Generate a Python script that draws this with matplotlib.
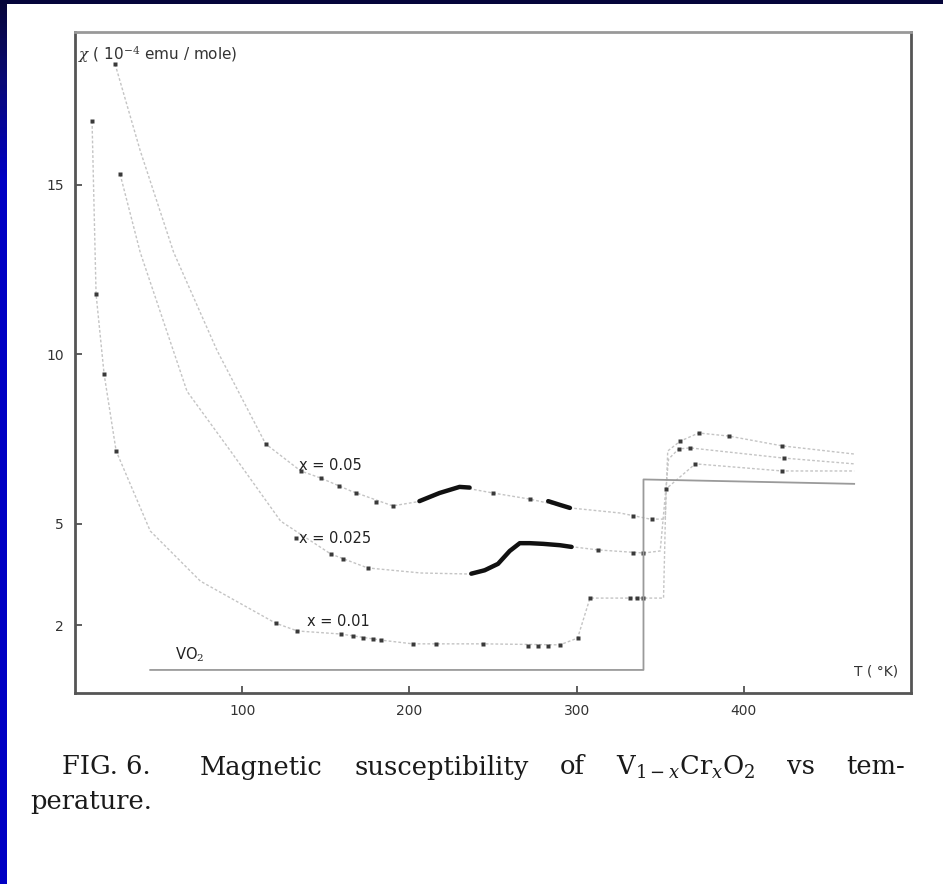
import matplotlib

matplotlib.use("Agg")
import matplotlib.pyplot as plt
import numpy as np
from matplotlib.colors import LinearSegmentedColormap

plt.rcParams["mathtext.fontset"] = "dejavuserif"

# --- data (T in K, chi in 1e-4 emu/mole) ---
# x = 0.05
T05_line = [24, 39, 59, 85, 114, 135, 147, 165, 190, 207, 230, 250, 272, 296,
            326, 344, 353, 354.5, 362, 373, 391, 423, 466]
C05_line = [18.55, 16.0, 13.0, 10.1, 7.35, 6.55, 6.34, 5.96, 5.52, 5.66, 6.08,
            5.9, 5.72, 5.46, 5.31, 5.13, 5.13, 7.14, 7.43, 7.67, 7.58, 7.29, 7.05]
T05_pts = [24, 114, 135, 147, 158, 168, 180, 190, 250, 272, 334, 345,
           362, 373, 391, 423]
C05_pts = [18.55, 7.35, 6.55, 6.34, 6.1, 5.9, 5.62, 5.52, 5.9, 5.72, 5.22, 5.13,
           7.43, 7.67, 7.58, 7.29]
T05_dense = [[206, 218, 230, 236], [283, 290, 296]]
C05_dense = [[5.66, 5.9, 6.08, 6.06], [5.66, 5.55, 5.46]]

# x = 0.025
T025_line = [27, 39, 67, 93, 123, 153, 175, 207, 236, 253, 260.5, 266.5, 277,
             298, 313, 340, 350, 355, 361, 368, 424, 466]
C025_line = [15.3, 13.0, 8.9, 7.14, 5.07, 4.1, 3.69, 3.54, 3.51, 3.81, 4.19,
             4.42, 4.4, 4.31, 4.22, 4.13, 4.19, 6.9, 7.2, 7.23, 6.93, 6.76]
T025_pts = [27, 132, 153, 160, 175, 313, 334, 340, 361, 368, 424]
C025_pts = [15.3, 4.57, 4.1, 3.95, 3.69, 4.22, 4.13, 4.13, 7.2, 7.23, 6.93]
T025_dense = [[237, 245, 253, 260, 266, 272, 280, 290, 297]]
C025_dense = [[3.52, 3.62, 3.81, 4.19, 4.42, 4.42, 4.4, 4.36, 4.31]]

# x = 0.01
T01_line = [10.2, 12.6, 17.4, 24.6, 45, 75, 120, 133, 159, 183, 202, 244, 290,
            300.6, 308, 340, 352, 353.5, 371, 423, 466]
C01_line = [16.87, 11.77, 9.41, 7.14, 4.78, 3.3, 2.06, 1.83, 1.74, 1.56, 1.45,
            1.45, 1.42, 1.62, 2.8, 2.8, 2.8, 6.02, 6.76, 6.55, 6.55]
T01_pts = [10.2, 12.6, 17.4, 24.6, 120, 133, 159, 166, 172, 178, 183, 202, 216,
           244, 271, 277, 283, 290, 300.6, 308, 332, 336, 340, 353.5, 371, 423]
C01_pts = [16.87, 11.77, 9.41, 7.14, 2.06, 1.83, 1.74, 1.68, 1.62, 1.58, 1.56,
           1.45, 1.45, 1.45, 1.39, 1.39, 1.39, 1.42, 1.62, 2.8, 2.8, 2.8, 2.8,
           6.02, 6.76, 6.55]

# pure VO2
TVO2_line = [45, 340, 340, 466]
CVO2_line = [0.68, 0.68, 6.3, 6.17]

LABELS = ["x = 0.05", "x = 0.025", "x = 0.01", "VO$_2$"]
LABEL_T = [134, 134, 139, 60]
LABEL_C = [6.72, 4.55, 2.12, 1.12]

XTICKS = [100, 200, 300, 400]
YTICKS = [2, 5, 10, 15]

CAPTION_1 = ["FIG. 6.", "Magnetic", "susceptibility", "of",
             r"V$_{1-x}$Cr$_x$O$_2$", "vs", "tem-"]
CAPTION_2 = "perature."

SANS = ["DejaVu Sans"]
W, H = 943, 884

fig = plt.figure(figsize=(W / 100, H / 100), dpi=100, facecolor="white")

# slide frame: dark strip on top, blue strip on the left
navy_blue = LinearSegmentedColormap.from_list(
    "nb", [(0, "#07063a"), (0.08, "#0a0a70"), (0.2, "#0000c4"), (1, "#0000c4")])
edge = fig.add_axes([0, 0, 7 / W, 1])
edge.imshow(np.linspace(0, 1, 300)[:, None], aspect="auto", cmap=navy_blue)
edge.set_axis_off()
top = fig.add_axes([0, 1 - 4 / H, 1, 4 / H])
top.set_facecolor("#05053a")
top.set_xticks([])
top.set_yticks([])
for s in top.spines.values():
    s.set_visible(False)

ax = fig.add_axes([75 / W, 1 - 693 / H, 836 / W, 661 / H])
ax.set_xlim(0, 500)
ax.set_ylim(0, 19.5)

guide = dict(color="#c4c4c4", lw=1.0, ls=(0, (2, 1.5)))
mark = dict(ls="none", marker="s", ms=2.8, color="#3a3a3a", mec="none")
dense = dict(color="#111111", lw=3.2, solid_capstyle="round")

series = [
    (T05_line, C05_line, T05_pts, C05_pts, T05_dense, C05_dense),
    (T025_line, C025_line, T025_pts, C025_pts, T025_dense, C025_dense),
    (T01_line, C01_line, T01_pts, C01_pts, [], []),
]
for tl, cl, tp, cp, td, cd in series:
    ax.plot(tl, cl, **guide)
    ax.plot(tp, cp, **mark)
    for a, b in zip(td, cd):
        ax.plot(a, b, **dense)
ax.plot(TVO2_line, CVO2_line, color="#9a9a9a", lw=1.3)

for lab, t, c in zip(LABELS, LABEL_T, LABEL_C):
    ax.text(t, c, lab, fontsize=10.5, family=SANS, color="#222222",
            va="center", ha="left")

ax.text(0.004, 0.982, r"$\chi$ ( 10$^{-4}$ emu / mole)", transform=ax.transAxes,
        fontsize=11, family=SANS, color="#333333", va="top", ha="left")
ax.text(0.985, 0.022, "T ( °K)", transform=ax.transAxes, fontsize=10,
        family=SANS, color="#333333", va="bottom", ha="right")

ax.set_xticks(XTICKS)
ax.set_yticks(YTICKS)
ax.set_xticklabels([str(v) for v in XTICKS], family=SANS, fontsize=10, color="#333333")
ax.set_yticklabels([str(v) for v in YTICKS], family=SANS, fontsize=10, color="#333333")
ax.tick_params(direction="in", length=5, width=1.2, color="#444444", pad=8)

for name, s in ax.spines.items():
    s.set_linewidth(2.0)
    s.set_color("#555555" if name in ("left", "bottom", "right") else "#999999")

# caption, first line justified between the page margins
cap_font = dict(family=["DejaVu Serif"], fontsize=18.5, color="#1a1a1a")
x0, x1, yc = 62, 905, 767
words = [fig.text(0, 1 - yc / H, w, va="center", ha="left", **cap_font)
         for w in CAPTION_1]
fig.canvas.draw()
r = fig.canvas.get_renderer()
widths = [t.get_window_extent(r).width for t in words]
extra = 18  # wider space after "FIG. 6."
gap = (x1 - x0 - sum(widths) - extra) / (len(words) - 1)
xpos = x0
for i, (t, wdt) in enumerate(zip(words, widths)):
    t.set_x(xpos / W)
    xpos += wdt + gap + (extra if i == 0 else 0)
fig.text(30 / W, 1 - 802 / H, CAPTION_2, va="center", ha="left", **cap_font)

fig.savefig("out.png", dpi=100, facecolor="white")
